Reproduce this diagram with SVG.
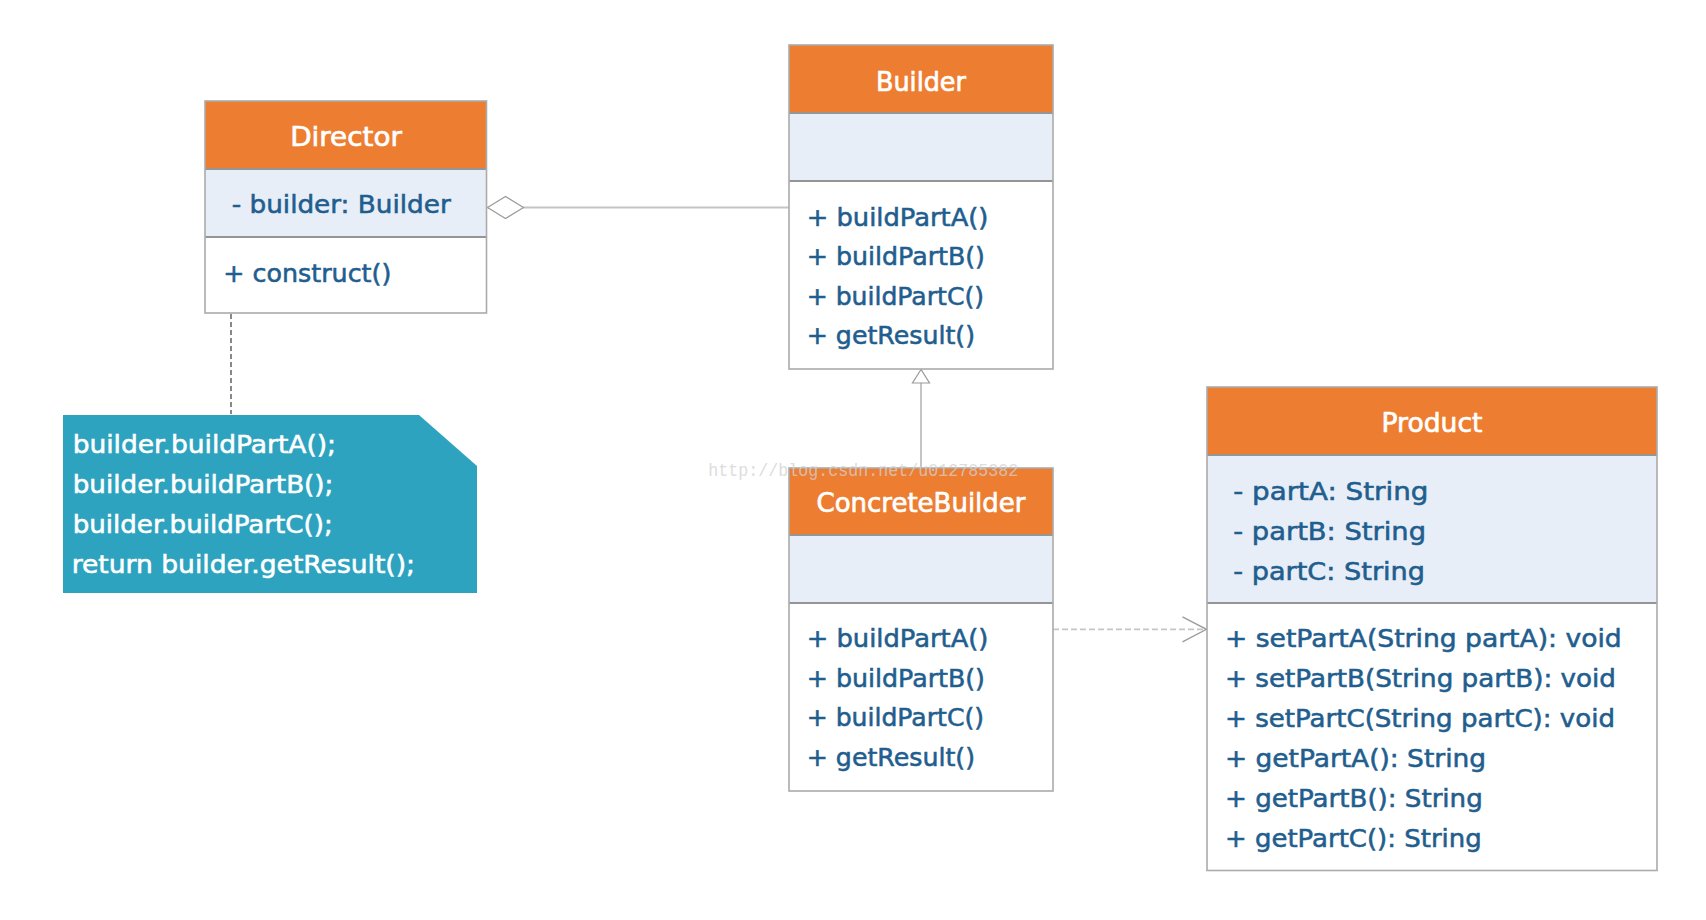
<svg xmlns="http://www.w3.org/2000/svg" width="1706" height="920" viewBox="0 0 1706 920">
  <style>
    .hdr { fill: #ED7D31; }
    .attr { fill: #E8EEF8; }
    .ops { fill: #FFFFFF; }
    .frame { fill: none; stroke: #ABABAB; stroke-width: 1.6; }
    .sep { stroke: #959595; stroke-width: 2; }
    text { font-family: "DejaVu Sans", "Liberation Sans", sans-serif; }
    .title { font-size: 27px; fill: #FFFFFF; stroke: #FFFFFF; stroke-width: 0.7; text-anchor: middle; }
    .member { font-size: 24px; fill: #1F5E8E; stroke: #1F5E8E; stroke-width: 0.55; }
    .notetext { font-size: 24px; fill: #FFFFFF; stroke: #FFFFFF; stroke-width: 0.55; }
    .mark { font-family: "Liberation Mono", monospace; font-size: 19px; fill: #D2D2D2; opacity: 0.75; }
    .assoc { stroke: #C4C4C4; stroke-width: 2; fill: none; }
    .dep { stroke: #C6C6C6; stroke-width: 1.8; stroke-dasharray: 6 3; fill: none; }
    .anchor { stroke: #6B6B6B; stroke-width: 1.6; stroke-dasharray: 5 3; fill: none; }
  </style>
  <defs>
    <marker id="diamond" markerUnits="userSpaceOnUse" markerWidth="40" markerHeight="26" viewBox="0 0 40 26" refX="37" refY="12" orient="auto" overflow="visible">
      <path d="M37,12 L19,1 L1,12 L19,23 Z" fill="#FFFFFF" stroke="#9A9A9A" stroke-width="1.2"/>
    </marker>
    <marker id="hollowTri" markerUnits="userSpaceOnUse" markerWidth="18" markerHeight="20" viewBox="0 0 18 20" refX="15" refY="9.5" orient="auto" overflow="visible">
      <path d="M15,9.5 L1.5,1 L1.5,18 Z" fill="#FFFFFF" stroke="#9A9A9A" stroke-width="1.2"/>
    </marker>
    <marker id="openArrow" markerUnits="userSpaceOnUse" markerWidth="28" markerHeight="28" viewBox="0 0 28 28" refX="25" refY="13.5" orient="auto" overflow="visible">
      <path d="M1,1 L25,13.5 L1,26" fill="none" stroke="#9A9A9A" stroke-width="1.3"/>
    </marker>
  </defs>

  <rect width="1706" height="920" fill="#FFFFFF"/>

  <!-- connectors -->
  <g id="connectors">
    <line class="assoc" x1="789" y1="207.5" x2="487.5" y2="207.5" marker-end="url(#diamond)"/>
    <line class="anchor" x1="231" y1="290" x2="231" y2="414"/>
    <line class="assoc" x1="921" y1="468" x2="921" y2="369.5" marker-end="url(#hollowTri)"/>
    <line class="dep" x1="1053" y1="629.3" x2="1206.5" y2="629.3" marker-end="url(#openArrow)"/>
  </g>

  <!-- Director -->
  <g id="director">
    <rect class="hdr" x="205" y="101" width="281.5" height="68"/>
    <rect class="attr" x="205" y="169" width="281.5" height="68"/>
    <rect class="ops" x="205" y="237" width="281.5" height="76"/>
    <line class="sep" x1="205" y1="169" x2="486.5" y2="169"/>
    <line class="sep" x1="205" y1="237" x2="486.5" y2="237"/>
    <rect class="frame" x="205" y="101" width="281.5" height="212"/>
    <text class="title" x="346" y="145.5" textLength="111.7" lengthAdjust="spacingAndGlyphs">Director</text>
    <text class="member" x="231.7" y="213" textLength="219" lengthAdjust="spacingAndGlyphs">- builder: Builder</text>
    <text class="member" x="223.3" y="282" textLength="168" lengthAdjust="spacingAndGlyphs">+ construct()</text>
  </g>

  <!-- Builder -->
  <g id="builder">
    <rect class="hdr" x="789" y="45" width="264" height="68"/>
    <rect class="attr" x="789" y="113" width="264" height="68"/>
    <rect class="ops" x="789" y="181" width="264" height="188"/>
    <line class="sep" x1="789" y1="113" x2="1053" y2="113"/>
    <line class="sep" x1="789" y1="181" x2="1053" y2="181"/>
    <rect class="frame" x="789" y="45" width="264" height="324"/>
    <text class="title" x="921" y="90.5" textLength="90" lengthAdjust="spacingAndGlyphs">Builder</text>
    <text class="member" x="806.7" y="225.5" textLength="181.7" lengthAdjust="spacingAndGlyphs">+ buildPartA()</text>
    <text class="member" x="806.7" y="265" textLength="178.3" lengthAdjust="spacingAndGlyphs">+ buildPartB()</text>
    <text class="member" x="806.7" y="304.5" textLength="177.3" lengthAdjust="spacingAndGlyphs">+ buildPartC()</text>
    <text class="member" x="806.7" y="344" textLength="168.3" lengthAdjust="spacingAndGlyphs">+ getResult()</text>
  </g>

  <!-- ConcreteBuilder -->
  <g id="concrete-builder">
    <rect class="hdr" x="789" y="468" width="264" height="67"/>
    <rect class="attr" x="789" y="535" width="264" height="68"/>
    <rect class="ops" x="789" y="603" width="264" height="188"/>
    <line class="sep" x1="789" y1="535" x2="1053" y2="535"/>
    <line class="sep" x1="789" y1="603" x2="1053" y2="603"/>
    <rect class="frame" x="789" y="468" width="264" height="323"/>
    <text class="title" x="921" y="512" textLength="209" lengthAdjust="spacingAndGlyphs">ConcreteBuilder</text>
    <text class="member" x="806.7" y="647" textLength="181.7" lengthAdjust="spacingAndGlyphs">+ buildPartA()</text>
    <text class="member" x="806.7" y="686.5" textLength="178.3" lengthAdjust="spacingAndGlyphs">+ buildPartB()</text>
    <text class="member" x="806.7" y="726" textLength="177.3" lengthAdjust="spacingAndGlyphs">+ buildPartC()</text>
    <text class="member" x="806.7" y="766" textLength="168.3" lengthAdjust="spacingAndGlyphs">+ getResult()</text>
  </g>

  <!-- Product -->
  <g id="product">
    <rect class="hdr" x="1207" y="387" width="450" height="68"/>
    <rect class="attr" x="1207" y="455" width="450" height="148"/>
    <rect class="ops" x="1207" y="603" width="450" height="267.5"/>
    <line class="sep" x1="1207" y1="455" x2="1657" y2="455"/>
    <line class="sep" x1="1207" y1="603" x2="1657" y2="603"/>
    <rect class="frame" x="1207" y="387" width="450" height="483.5"/>
    <text class="title" x="1432" y="432" textLength="101" lengthAdjust="spacingAndGlyphs">Product</text>
    <text class="member" x="1233.3" y="500" textLength="195" lengthAdjust="spacingAndGlyphs">- partA: String</text>
    <text class="member" x="1233.3" y="540" textLength="192.7" lengthAdjust="spacingAndGlyphs">- partB: String</text>
    <text class="member" x="1233.3" y="580" textLength="191.7" lengthAdjust="spacingAndGlyphs">- partC: String</text>
    <text class="member" x="1225" y="647" textLength="396.7" lengthAdjust="spacingAndGlyphs">+ setPartA(String partA): void</text>
    <text class="member" x="1225" y="687" textLength="391" lengthAdjust="spacingAndGlyphs">+ setPartB(String partB): void</text>
    <text class="member" x="1225" y="727" textLength="390" lengthAdjust="spacingAndGlyphs">+ setPartC(String partC): void</text>
    <text class="member" x="1225" y="767" textLength="261" lengthAdjust="spacingAndGlyphs">+ getPartA(): String</text>
    <text class="member" x="1225" y="807" textLength="257.7" lengthAdjust="spacingAndGlyphs">+ getPartB(): String</text>
    <text class="member" x="1225" y="847" textLength="256.7" lengthAdjust="spacingAndGlyphs">+ getPartC(): String</text>
  </g>

  <!-- note attached to construct() -->
  <g id="construct-note">
    <path d="M63,415 H419 L477,466 V593 H63 Z" fill="#2EA3C0"/>
    <text class="notetext" x="72.7" y="453" textLength="263.3" lengthAdjust="spacingAndGlyphs">builder.buildPartA();</text>
    <text class="notetext" x="72.7" y="493" textLength="260.7" lengthAdjust="spacingAndGlyphs">builder.buildPartB();</text>
    <text class="notetext" x="72.7" y="533" textLength="260" lengthAdjust="spacingAndGlyphs">builder.buildPartC();</text>
    <text class="notetext" x="71.7" y="573" textLength="343.3" lengthAdjust="spacingAndGlyphs">return builder.getResult();</text>
  </g>

  <text class="mark" x="708.3" y="476" textLength="310" lengthAdjust="spacingAndGlyphs">http://blog.csdn.net/u012785382</text>
</svg>
